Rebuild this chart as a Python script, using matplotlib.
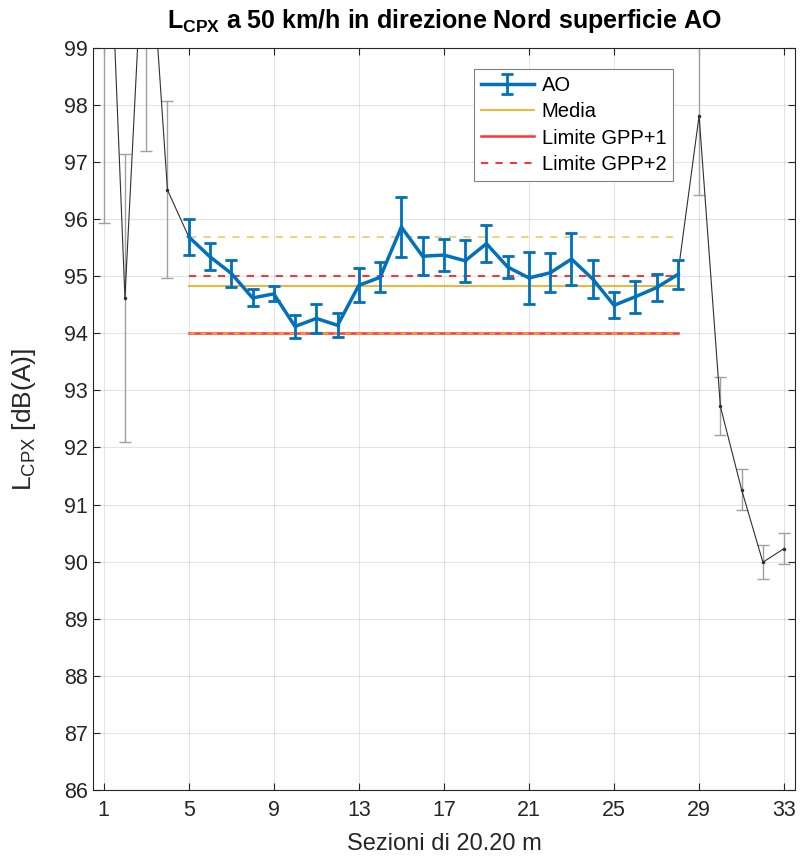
import matplotlib
matplotlib.use('Agg')
import matplotlib.pyplot as plt
import numpy as np

plt.rcParams['font.family'] = ['Liberation Sans', 'DejaVu Sans']
plt.rcParams['mathtext.fontset'] = 'custom'
plt.rcParams['mathtext.rm'] = 'Liberation Sans'
plt.rcParams['mathtext.bf'] = 'Liberation Sans:bold'

# sezioni 1..33, valori LCPX e semi-ampiezza barre d'errore
sezioni = np.arange(1, 34)
valori = [103.9, 94.62, 102.0, 96.51,
          95.69, 95.34, 95.05, 94.62, 94.69, 94.12, 94.26, 94.14,
          94.84, 94.98, 95.86, 95.35, 95.37, 95.27, 95.57, 95.16,
          94.97, 95.06, 95.30, 94.95, 94.49, 94.64, 94.80, 95.03,
          97.81, 92.72, 91.26, 89.99, 90.23]
errori = [7.96, 2.52, 4.8, 1.55,
          0.31, 0.235, 0.24, 0.15, 0.13, 0.20, 0.26, 0.21,
          0.30, 0.26, 0.52, 0.33, 0.28, 0.365, 0.32, 0.20,
          0.45, 0.34, 0.46, 0.33, 0.23, 0.28, 0.23, 0.26,
          1.38, 0.51, 0.36, 0.30, 0.27]

# tratto AO: sezioni 5..28
ao_inizio, ao_fine = 5, 28
media = 94.82
limite_gpp1 = 94.0
limite_gpp2 = 95.0
media_sup = 95.69
media_inf = 94.0

fig = plt.figure(figsize=(8.02, 8.65), dpi=100)
ax = fig.add_axes([0.116, 0.0867, 0.875, 0.858])

# tutte le sezioni in grigio
ax.errorbar(sezioni, valori, yerr=errori, color='#303030', lw=0.8,
            marker='.', ms=3, ecolor='#a0a0a0', elinewidth=1.0,
            capsize=4, zorder=2)

sl = slice(ao_inizio - 1, ao_fine)
xs = sezioni[sl]
h_ao = ax.errorbar(xs, valori[sl], yerr=errori[sl], color='#0072BD', lw=2.5,
                   elinewidth=2.0, capsize=4.5, capthick=2.0, label='AO',
                   zorder=4)
h_media, = ax.plot([ao_inizio, ao_fine], [media, media], color='#EDB120',
                   lw=1.3, label='Media', zorder=3)
h_g1, = ax.plot([ao_inizio, ao_fine], [limite_gpp1, limite_gpp1],
                color='#FF3333', lw=1.8, label='Limite GPP+1', zorder=3)
h_g2, = ax.plot([ao_inizio, ao_fine], [limite_gpp2, limite_gpp2],
                color='#FF2020', lw=1.3, ls=(0, (4, 4)),
                label='Limite GPP+2', zorder=3)
ax.plot([ao_inizio, ao_fine], [media_sup, media_sup], color='#F5CC70',
        lw=1.3, ls=(0, (4, 4)), zorder=3)
ax.plot([ao_inizio, ao_fine], [media_inf, media_inf], color='#EDB120',
        lw=1.0, ls=(0, (4, 4)), zorder=3)

ax.set_xlim(0.5, 33.5)
ax.set_ylim(86, 99)
ax.set_xticks(np.arange(1, 34, 4))
ax.set_yticks(np.arange(86, 100, 1))
ax.tick_params(direction='in', top=True, right=True, labelsize=15.5,
               colors='#262626', length=5)
ax.tick_params(axis='x', pad=7)
ax.grid(True, color='#262626', alpha=0.12, lw=0.8)
for s in ax.spines.values():
    s.set_color('#262626')
    s.set_linewidth(0.8)

ax.set_xlabel('Sezioni di 20.20 m', fontsize=17, color='#262626')
ax.set_ylabel(r'L$_{\mathrm{CPX}}$ [dB(A)]', fontsize=19, color='#262626')
ax.yaxis.set_label_coords(-0.078, 0.5)
ax.xaxis.set_label_coords(0.5, -0.058)
ax.set_title(r'$\mathbf{L_{CPX}}$ a 50 km/h in direzione Nord superficie AO',
             fontsize=18, fontweight='bold', color='black', pad=14)

leg = ax.legend([h_ao, h_media, h_g1, h_g2],
                ['AO', 'Media', 'Limite GPP+1', 'Limite GPP+2'],
                loc='upper right', bbox_to_anchor=(0.827, 0.971),
                borderaxespad=0, fontsize=14.5, fancybox=False, framealpha=1,
                edgecolor='#808080', borderpad=0.35, labelspacing=0.35,
                handlelength=2.6, handletextpad=0.4)
leg.get_frame().set_linewidth(0.8)

fig.savefig('out.png', dpi=100)
